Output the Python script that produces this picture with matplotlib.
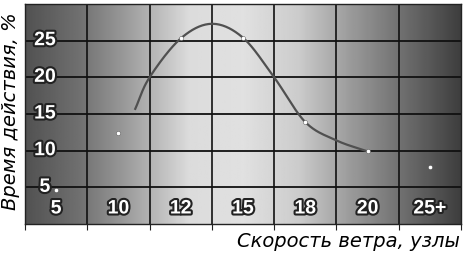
import numpy as np
import matplotlib
matplotlib.use("Agg")
import matplotlib.pyplot as plt
import matplotlib.patheffects as pe

# categories (wind speed, knots) and point values (% of time)
cats = ["5", "10", "12", "15", "18", "20", "25+"]
vals = [4.6, 12.4, 25.3, 25.4, 13.9, 9.9, 7.8]

# smoothed trend line (category position, %)
curve_x = [1.27, 1.5, 2.0, 2.5, 3.0, 3.5, 4.0, 4.5, 5.0]
curve_y = [15.7, 20.0, 25.3, 27.3, 25.4, 20.0, 13.9, 11.4, 9.9]

yticks = [5, 10, 15, 20, 25]

# background brightness across the plot (0..1), left to right
shade = [0.32, 0.44, 0.64, 0.86, 0.88, 0.80, 0.60, 0.42, 0.24]


def catmull(xs, ys, n=30):
    xs = np.asarray(xs, float); ys = np.asarray(ys, float)
    px = np.r_[2*xs[0]-xs[1], xs, 2*xs[-1]-xs[-2]]
    py = np.r_[2*ys[0]-ys[1], ys, 2*ys[-1]-ys[-2]]
    ox, oy = [], []
    t = np.linspace(0, 1, n)
    for i in range(1, len(px)-2):
        for p, o in ((px, ox), (py, oy)):
            p0, p1, p2, p3 = p[i-1], p[i], p[i+1], p[i+2]
            o.extend(0.5*(2*p1 + (-p0+p2)*t + (2*p0-5*p1+4*p2-p3)*t**2
                          + (-p0+3*p1-3*p2+p3)*t**3))
    return np.array(ox), np.array(oy)


fig = plt.figure(figsize=(4.69, 2.55), dpi=100)
ax = fig.add_axes([25/469, 1-225/255, 436/469, 220/255])
ax.set_xlim(-0.5, 6.5)
ax.set_ylim(0, 30)

grad = np.interp(np.linspace(0, 1, 400), np.linspace(0, 1, len(shade)), shade)
ax.imshow(grad[None, :], cmap="gray", vmin=0, vmax=1, aspect="auto",
          extent=(-0.5, 6.5, 0, 30), zorder=0)

for b in np.arange(0.5, 6.5, 1):
    ax.axvline(b, color="#111111", lw=1.2, zorder=1)
for v in yticks:
    ax.axhline(v, color="#111111", lw=1.3, zorder=1)

cx, cy = catmull(curve_x, curve_y)
ax.plot(cx, cy, color="#505050", lw=1.6, zorder=2)
ax.scatter(range(len(vals)), vals, s=9, color="white", edgecolors="#444444",
           linewidths=0.3, zorder=3)

stroke = [pe.withStroke(linewidth=3, foreground="#222222")]
for v in yticks:
    ax.text(-0.18, v, str(v), color="white", fontsize=14, fontweight="bold",
            family="Liberation Sans", ha="center", va="center",
            path_effects=stroke, zorder=4)
for i, c in enumerate(cats):
    ax.text(i, 2.05, c, color="white", fontsize=14, fontweight="bold",
            family="Liberation Sans", ha="center", va="center",
            path_effects=stroke, zorder=4)

ax.set_xticks(np.arange(-0.5, 7, 1))
ax.set_xticklabels([])
ax.set_yticks([])
ax.tick_params(axis="x", length=4, width=0.8, color="#222222")
for s in ax.spines.values():
    s.set_color("#222222")
    s.set_linewidth(1.0)

fig.text(460/469, 1-242/255, "Скорость ветра, узлы", fontsize=14,
         style="italic", family="DejaVu Sans", ha="right", va="center")
fig.text(11/469, 1-111/255, "Время действия, %", fontsize=14,
         style="italic", family="DejaVu Sans", ha="center", va="center",
         rotation=90)

fig.savefig("out.png", dpi=100, facecolor="white")
